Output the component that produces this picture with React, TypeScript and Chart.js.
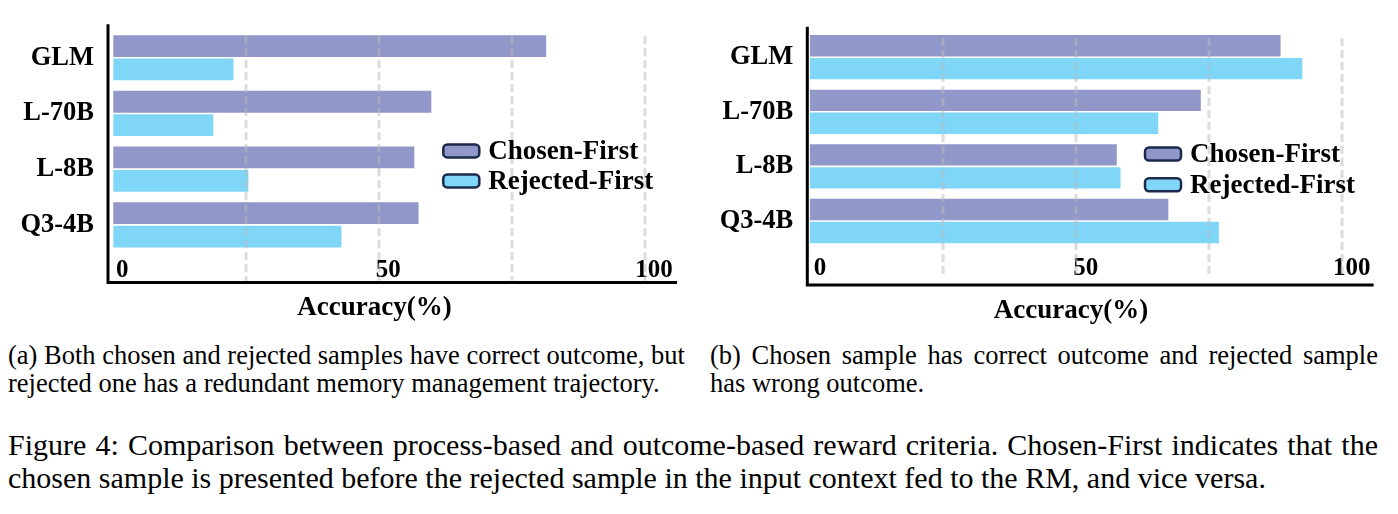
import React, { useEffect, useRef } from "react";
import { Chart, registerables } from "chart.js";

Chart.register(...registerables);

const categories = ["GLM", "L-70B", "L-8B", "Q3-4B"];
const seriesNames = ["Chosen-First", "Rejected-First"];
const seriesColors = ["#9297CA", "#80D6F7"];
const leftChosen = [81.4, 59.8, 56.6, 57.4];
const leftRejected = [22.6, 18.8, 25.4, 42.9];
const rightChosen = [88.5, 73.5, 57.7, 67.4];
const rightRejected = [92.6, 65.5, 58.4, 76.9];
const tickValues = [0, 50, 100];
const gridValues = [25, 50, 75, 100];
const axisTitle = "Accuracy(%)";
const captionA = [
  "(a) Both chosen and rejected samples have correct outcome, but",
  "rejected one has a redundant memory management trajectory.",
];
const captionB = [
  "(b) Chosen sample has correct outcome and rejected sample",
  "has wrong outcome.",
];
const figureCaption = [
  "Figure 4: Comparison between process-based and outcome-based reward criteria. Chosen-First indicates that the",
  "chosen sample is presented before the rejected sample in the input context fed to the RM, and vice versa.",
];

const FONT = "'Liberation Serif', 'Times New Roman', serif";

const decorPlugin = {
  id: "decor",
  afterDatasetsDraw(chart: any, _args: any, o: any) {
    const { ctx, chartArea } = chart;
    const xs = chart.scales.x;
    const axisY = chartArea.bottom + o.axisOffset;
    // dashed grid lines (drawn over bars, semi transparent)
    ctx.save();
    ctx.strokeStyle = "rgba(185,185,190,0.5)";
    ctx.lineWidth = 3;
    ctx.setLineDash([8, 4]);
    for (const v of gridValues) {
      const px = Math.round(xs.getPixelForValue(v));
      ctx.beginPath();
      ctx.moveTo(px, chartArea.top + o.gridTop);
      ctx.lineTo(px, chartArea.bottom + o.gridBottom);
      ctx.stroke();
    }
    ctx.restore();
    // axis lines
    ctx.save();
    ctx.strokeStyle = "#000";
    ctx.lineWidth = 3;
    ctx.beginPath();
    ctx.moveTo(chartArea.left, chartArea.top - o.axisTop);
    ctx.lineTo(chartArea.left, axisY);
    ctx.lineTo(chartArea.right, axisY);
    ctx.stroke();
    ctx.restore();
    // axis title
    ctx.save();
    ctx.fillStyle = "#000";
    ctx.font = `bold 27px ${FONT}`;
    ctx.textAlign = "center";
    ctx.textBaseline = "middle";
    ctx.fillText(axisTitle, xs.getPixelForValue(o.titleValue), axisY + o.titleOffset);
    ctx.restore();
    // legend
    ctx.save();
    const ds = chart.data.datasets;
    ds.forEach((d: any, i: number) => {
      const bx = chartArea.left + o.legendX;
      const cy = chartArea.top + o.legendY + i * o.legendGap;
      const w = 36, h = 13;
      ctx.beginPath();
      ctx.roundRect(bx, cy - h / 2, w, h, 4);
      ctx.fillStyle = d.backgroundColor;
      ctx.fill();
      ctx.lineWidth = 2.5;
      ctx.strokeStyle = "#1B2A4C";
      ctx.stroke();
      ctx.fillStyle = "#000";
      ctx.font = `bold 27px ${FONT}`;
      ctx.textAlign = "left";
      ctx.textBaseline = "middle";
      ctx.fillText(d.label, bx + w + 9, cy + 1);
    });
    ctx.restore();
  },
};

type Cfg = {
  chosen: number[];
  rejected: number[];
  min: number;
  top: number;
  right: number;
  xHeight: number;
  yWidth: number;
  tickPad: number;
  labelOffset: number;
  decor: any;
};

function BarChart({ cfg, w, h }: { cfg: Cfg; w: number; h: number }) {
  const ref = useRef<HTMLCanvasElement | null>(null);
  useEffect(() => {
    if (!ref.current) return;
    const chart = new Chart(ref.current, {
      type: "bar",
      data: {
        labels: categories,
        datasets: [
          {
            label: seriesNames[0],
            data: cfg.chosen,
            backgroundColor: seriesColors[0],
            borderWidth: 0,
            categoryPercentage: 0.84,
            barPercentage: 0.93,
          },
          {
            label: seriesNames[1],
            data: cfg.rejected,
            backgroundColor: seriesColors[1],
            borderWidth: 0,
            categoryPercentage: 0.84,
            barPercentage: 0.93,
          },
        ],
      },
      options: {
        indexAxis: "y",
        animation: false,
        responsive: false,
        maintainAspectRatio: false,
        devicePixelRatio: 1,
        layout: { padding: { top: cfg.top, right: cfg.right, left: 0, bottom: 0 } },
        plugins: {
          legend: { display: false },
          tooltip: { enabled: false },
          decor: cfg.decor,
        } as any,
        scales: {
          x: {
            type: "linear",
            min: cfg.min,
            max: 106,
            position: "bottom",
            grid: { display: false, drawTicks: false },
            border: { display: false },
            afterBuildTicks: (s: any) => {
              s.ticks = tickValues.map((v) => ({ value: v }));
            },
            afterFit: (s: any) => {
              s.height = cfg.xHeight;
            },
            ticks: {
              color: "#000",
              font: { family: FONT, size: 25, weight: "bold" },
              padding: cfg.tickPad,
              labelOffset: cfg.labelOffset,
              maxRotation: 0,
              autoSkip: false,
            },
          },
          y: {
            type: "category",
            grid: { display: false, drawTicks: false },
            border: { display: false },
            afterFit: (s: any) => {
              s.width = cfg.yWidth;
            },
            ticks: {
              color: "#000",
              font: { family: FONT, size: 26.5, weight: "bold" },
              padding: 14,
            },
          },
        },
      } as any,
      plugins: [decorPlugin],
    });
    return () => chart.destroy();
  }, []);
  return <canvas ref={ref} width={w} height={h} style={{ width: w, height: h, display: "block" }} />;
}

const leftCfg: Cfg = {
  chosen: leftChosen,
  rejected: leftRejected,
  min: -1,
  top: 28.7,
  right: 23,
  xHeight: 77.3,
  yWidth: 108,
  tickPad: 3,
  labelOffset: 9,
  decor: {
    axisOffset: 29.8,
    axisTop: 5.7,
    gridTop: 6.3,
    gridBottom: 28,
    titleValue: 49.1,
    titleOffset: 25.5,
    legendX: 335.3,
    legendY: 121,
    legendGap: 30,
  },
};

const rightCfg: Cfg = {
  chosen: rightChosen,
  rejected: rightRejected,
  min: -0.5,
  top: 25.1,
  right: 24.4,
  xHeight: 81.7,
  yWidth: 107.3,
  tickPad: 5,
  labelOffset: 10,
  decor: {
    axisOffset: 36.7,
    axisTop: 3.1,
    gridTop: 8,
    gridBottom: 28.7,
    titleValue: 49.1,
    titleOffset: 26,
    legendX: 337.7,
    legendY: 124.1,
    legendGap: 30.8,
  },
};

const capStyle: React.CSSProperties = {
  position: "absolute",
  fontFamily: FONT,
  fontSize: 26.5,
  lineHeight: "28px",
  color: "#000",
  whiteSpace: "nowrap",
};

function Lines({ lines, justifyFirst }: { lines: string[]; justifyFirst: boolean }) {
  return (
    <>
      {lines.map((t, i) => (
        <div
          key={i}
          style={
            i === 0 && justifyFirst
              ? { textAlign: "justify", textAlignLast: "justify" as any }
              : { textAlign: "left" }
          }
        >
          {t}
        </div>
      ))}
    </>
  );
}

export default function App() {
  return (
    <div style={{ position: "absolute", left: 0, top: 0, width: 1398, height: 514, background: "#fff", overflow: "hidden" }}>
      <div style={{ position: "absolute", left: 0, top: 0 }}>
        <BarChart cfg={leftCfg} w={700} h={330} />
      </div>
      <div style={{ position: "absolute", left: 700, top: 0 }}>
        <BarChart cfg={rightCfg} w={698} h={330} />
      </div>
      <div style={{ ...capStyle, left: 8, top: 341, width: 677 }}>
        <Lines lines={captionA} justifyFirst />
      </div>
      <div style={{ ...capStyle, left: 710, top: 341, width: 668 }}>
        <Lines lines={captionB} justifyFirst />
      </div>
      <div style={{ ...capStyle, left: 8, top: 428, width: 1370, fontSize: 30, lineHeight: "33px" }}>
        <Lines lines={figureCaption} justifyFirst />
      </div>
    </div>
  );
}
